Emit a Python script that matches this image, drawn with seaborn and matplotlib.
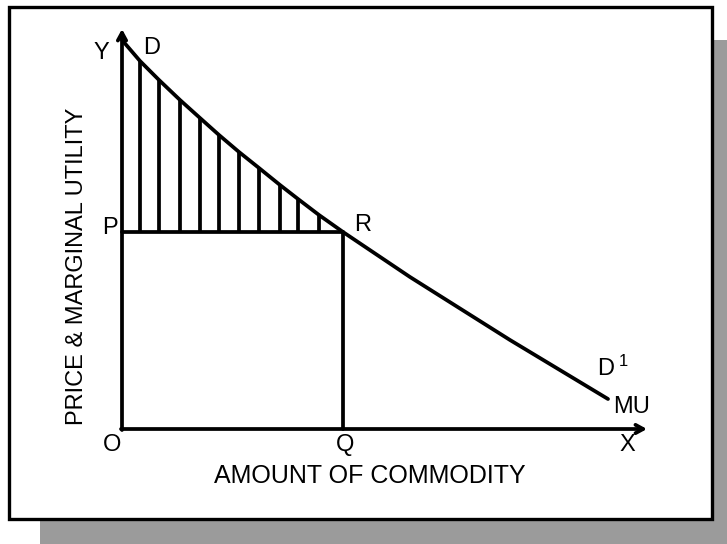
import seaborn as sns
import matplotlib.pyplot as plt
import matplotlib.patches as mpatches
import pandas as pd

# demand / marginal utility curve D-D1 (origin at O)
curve_x = [0, 18, 37, 58, 78, 97, 117, 137, 158, 176, 197, 221, 288, 388, 486]
curve_y = [389, 368, 349, 329, 311, 294, 277, 261, 244, 230, 214, 197, 152, 89, 30]

price_p = 197      # OP
quantity_q = 221   # OQ
x_axis_end = 525
y_axis_end = 400

x_title = "AMOUNT OF COMMODITY"
y_title = "PRICE & MARGINAL UTILITY"

df = pd.DataFrame({"x": curve_x, "y": curve_y})

sns.set_style("white")
plt.rcParams["font.family"] = ["Liberation Sans", "DejaVu Sans"]
plt.rcParams["text.color"] = "black"

fig = plt.figure(figsize=(7.27, 5.44), dpi=100)
ax = fig.add_axes([0, 0, 1, 1])
ax.set_xlim(-122, 605)
ax.set_ylim(-115, 429)
ax.axis("off")

lw = 2.7
shadow = "#9b9b9b"

# frame + shadow
ax.add_patch(mpatches.Rectangle((590, -115), 15, 504, color=shadow, lw=0))
ax.add_patch(mpatches.Rectangle((-82, -115), 687, 25, color=shadow, lw=0))
ax.add_patch(mpatches.Rectangle((-113, -90), 703, 512, fill=False,
                                edgecolor="black", lw=2.4))

# axes with open arrowheads
arrow = dict(arrowstyle="->,head_length=0.55,head_width=0.3", lw=lw,
             color="black", shrinkA=0, shrinkB=0)
ax.annotate("", xy=(0, y_axis_end), xytext=(0, -1), arrowprops=arrow)
ax.annotate("", xy=(x_axis_end, 0), xytext=(-1, 0), arrowprops=arrow)

# curve
sns.lineplot(data=df, x="x", y="y", color="black", lw=lw, sort=False, ax=ax,
             solid_joinstyle="round")

# consumer surplus hatching
hx = curve_x[1:11]
hy = curve_y[1:11]
ax.vlines(hx, price_p, hy, color="black", lw=lw)

# price and quantity lines
ax.plot([0, quantity_q], [price_p, price_p], color="black", lw=lw)
ax.plot([quantity_q, quantity_q], [0, price_p], color="black", lw=lw)

fs = 17
lab = dict(fontsize=fs, ha="center", va="center", color="black")
ax.text(-21, 376, "Y", **lab)
ax.text(30, 381, "D", **lab)
ax.text(-12, 201, "P", **lab)
ax.text(241, 204, "R", **lab)
ax.text(-10, -16, "O", **lab)
ax.text(223, -16, "Q", **lab)
ax.text(505, -16, "X", **lab)
ax.text(484, 60, "D", **lab)
ax.text(501, 67, "1", fontsize=12, ha="center", va="center", color="black")
ax.text(510, 22, "MU", **lab)

ax.text(248, -47, x_title, fontsize=18, ha="center", va="center", color="black")
ax.text(-45, 163, y_title, fontsize=17, ha="center", va="center",
        rotation=90, color="black")

ax.set_xlabel("")
ax.set_ylabel("")
if ax.get_legend():
    ax.get_legend().remove()

fig.savefig("out.png", dpi=100)
